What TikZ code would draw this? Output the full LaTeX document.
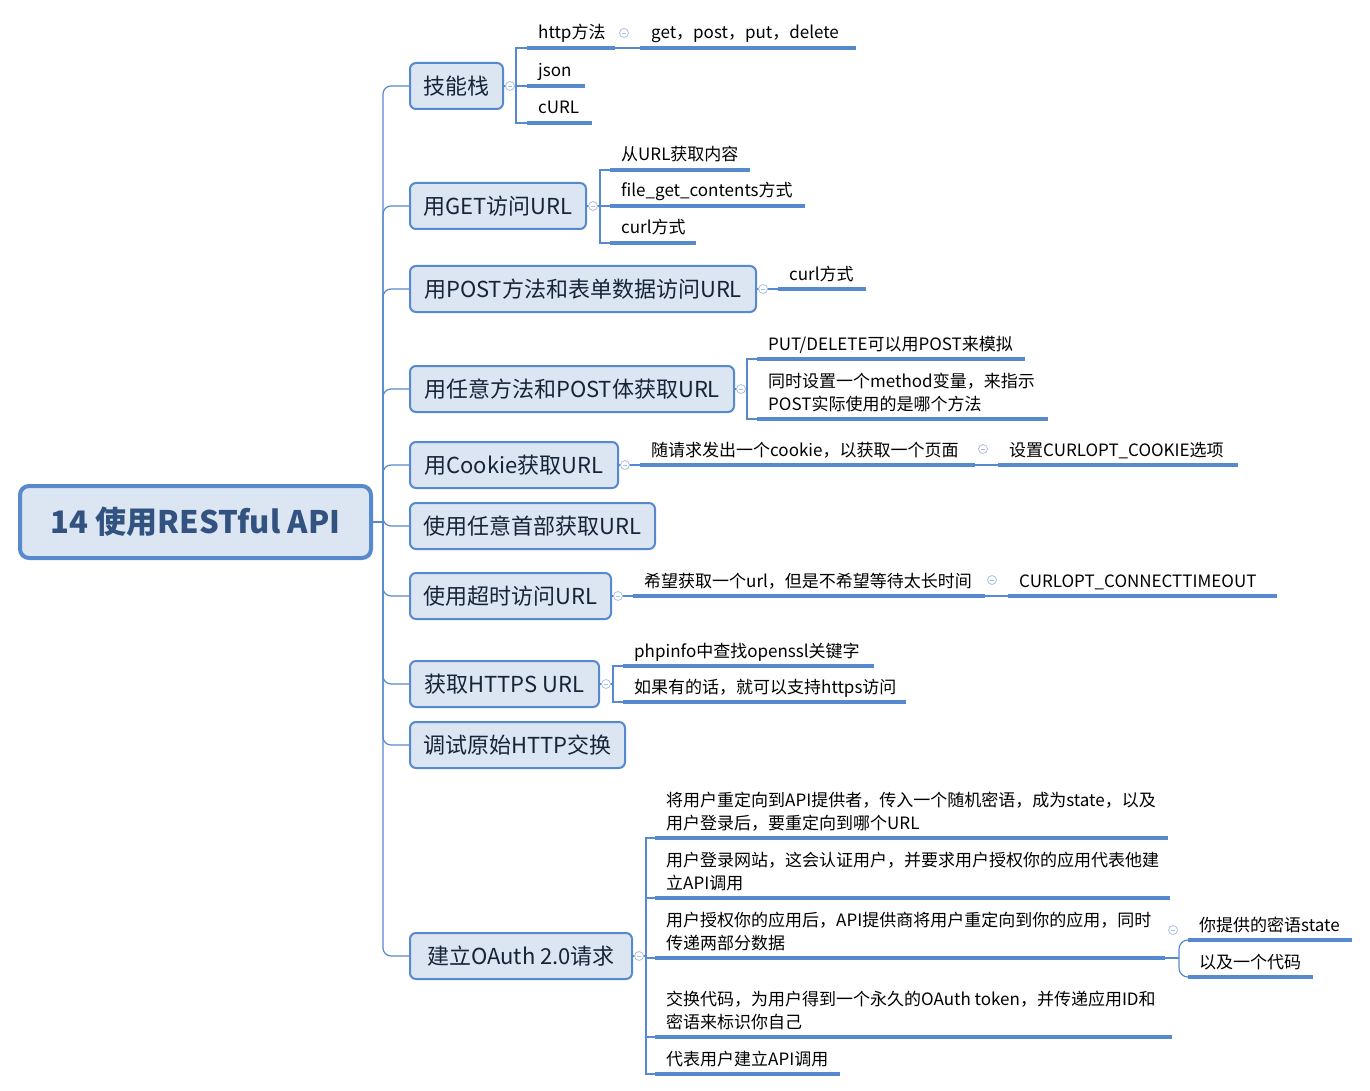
\documentclass[tikz,border=0pt]{standalone}
\usepackage{fontspec}
\setmainfont{Noto Sans CJK SC}
\usetikzlibrary{calc}
\definecolor{lb}{RGB}{86,137,205}
\definecolor{boxfill}{RGB}{220,230,242}
\definecolor{roottext}{RGB}{50,82,128}
\definecolor{btext}{RGB}{22,36,56}
\definecolor{circ}{RGB}{170,192,225}
\tikzset{
  rootbox/.style={draw=lb, line width=4pt, fill=boxfill, rounded corners=9pt,
    minimum height=72pt, minimum width=351pt, inner sep=0pt,
    font=\fontsize{31}{36}\selectfont\bfseries, text=roottext},
  branch/.style={draw=lb, line width=2pt, fill=boxfill, rounded corners=6pt,
    minimum height=46pt, inner sep=0pt, anchor=west,
    font=\fontsize{22}{26}\selectfont, text=btext},
  thinline/.style={draw=lb, line width=1.2pt},
  uline/.style={draw=lb, line width=3.2pt},
  leaftext/.style={font=\fontsize{17}{23}\selectfont, anchor=base west,
    inner sep=0pt, align=left, text=black},
  collapse/.style={circle, draw=circ, fill=white, line width=0.8pt,
    minimum size=9pt, inner sep=0pt,
    path picture={\draw[circ, line width=0.8pt]
      ($(path picture bounding box.west)+(2.2pt,0)$) --
      ($(path picture bounding box.east)+(-2.2pt,0)$);}}
}
\newcommand{\myleaf}[6]{%
  \coordinate (#1s) at (#2,#4);
  \coordinate (#1e) at (#3,#4);
  \draw[uline] (#1s) -- (#1e);
  \node[leaftext] (#1) at ({#2+11},#5) {#6};
}
\begin{document}
\begin{tikzpicture}[x=1pt,y=-1pt]
\useasboundingbox (0,0) rectangle (1370,1091);

% root and branches
\node[rootbox] (root) at (195.5,522) {14 使用RESTful API};
\node[branch, minimum width=93pt]  (b1)  at (409,86)  {技能栈};
\node[branch, minimum width=176pt] (b2)  at (409,206) {用GET访问URL};
\node[branch, minimum width=346pt] (b3)  at (409,289) {用POST方法和表单数据访问URL};
\node[branch, minimum width=324pt] (b4)  at (409,389) {用任意方法和POST体获取URL};
\node[branch, minimum width=208pt] (b5)  at (409,465) {用Cookie获取URL};
\node[branch, minimum width=245pt] (b6)  at (409,526) {使用任意首部获取URL};
\node[branch, minimum width=201pt] (b7)  at (409,596) {使用超时访问URL};
\node[branch, minimum width=189pt] (b8)  at (409,684) {获取HTTPS URL};
\node[branch, minimum width=215pt] (b9)  at (409,745) {调试原始HTTP交换};
\node[branch, minimum width=222pt] (b10) at (409,956) {建立OAuth 2.0请求};

% trunk
\coordinate (tr) at (383,522);
\draw[thinline] (root.east) -- (tr);
\foreach \b in {b1,b2,b3,b4,b5,b6,b7,b8,b9,b10}{
  \draw[thinline, rounded corners=8pt] (tr) |- (\b.west);
}

% leaves
\myleaf{a1}{527}{615}{48}{39}{http方法}
\myleaf{a11}{640}{856}{48}{39}{get，post，put，delete}
\myleaf{a2}{527}{585}{86}{77}{json}
\myleaf{a3}{527}{592}{123}{114}{cURL}

\myleaf{g1}{610}{750}{170}{161}{从URL获取内容}
\myleaf{g2}{610}{805}{206}{197}{file\_get\_contents方式}
\myleaf{g3}{610}{696}{243}{234}{curl方式}

\myleaf{p1}{778}{866}{289}{280}{curl方式}

\myleaf{m1}{757}{1025}{359}{350}{PUT/DELETE可以用POST来模拟}
\myleaf{m2}{757}{1048}{419}{410}{同时设置一个method变量，来指示\\POST实际使用的是哪个方法}

\myleaf{k1}{640}{975}{465}{456}{随请求发出一个cookie，以获取一个页面}
\myleaf{k2}{998}{1238}{465}{456}{设置CURLOPT\_COOKIE选项}

\myleaf{t1}{633}{985}{596}{587}{希望获取一个url，但是不希望等待太长时间}
\myleaf{t2}{1008}{1277}{596}{587}{CURLOPT\_CONNECTTIMEOUT}

\myleaf{h1}{623}{874}{666}{657}{phpinfo中查找openssl关键字}
\myleaf{h2}{623}{906}{702}{693}{如果有的话，就可以支持https访问}

\myleaf{o1}{655}{1168}{838}{829}{将用户重定向到API提供者，传入一个随机密语，成为state，以及\\用户登录后，要重定向到哪个URL}
\myleaf{o2}{655}{1170}{898}{889}{用户登录网站，这会认证用户，并要求用户授权你的应用代表他建\\立API调用}
\myleaf{o3}{655}{1165}{958}{949}{用户授权你的应用后，API提供商将用户重定向到你的应用，同时\\传递两部分数据}
\myleaf{o4}{655}{1172}{1037}{1028}{交换代码，为用户得到一个永久的OAuth token，并传递应用ID和\\密语来标识你自己}
\myleaf{o5}{655}{840}{1074}{1065}{代表用户建立API调用}

\myleaf{s1}{1188}{1352}{940}{931}{你提供的密语state}
\myleaf{s2}{1188}{1313}{977}{968}{以及一个代码}

% connectors
\coordinate (j1) at (516,86);
\draw[thinline] (b1.east) -- (j1);
\foreach \l in {a1s,a2s,a3s}{\draw[thinline] (j1) |- (\l);}
\draw[thinline] (a1e) -- (a11s);

\coordinate (j2) at (600,206);
\draw[thinline] (b2.east) -- (j2);
\foreach \l in {g1s,g2s,g3s}{\draw[thinline] (j2) |- (\l);}

\draw[thinline] (b3.east) -- (p1s);

\coordinate (j4) at (747,389);
\draw[thinline] (b4.east) -- (j4);
\foreach \l in {m1s,m2s}{\draw[thinline] (j4) |- (\l);}

\draw[thinline] (b5.east) -- (k1s);
\draw[thinline] (k1e) -- (k2s);

\draw[thinline] (b7.east) -- (t1s);
\draw[thinline] (t1e) -- (t2s);

\coordinate (j8) at (613,684);
\draw[thinline] (b8.east) -- (j8);
\foreach \l in {h1s,h2s}{\draw[thinline] (j8) |- (\l);}

\coordinate (j10) at (646,956);
\draw[thinline] (b10.east) -- (j10);
\foreach \l in {o1s,o2s,o3s,o4s,o5s}{\draw[thinline] (j10) |- (\l);}

\coordinate (jo3) at (1179,958);
\draw[thinline] (o3e) -- (jo3);
\foreach \l in {s1s,s2s}{\draw[thinline, rounded corners=9pt] (jo3) |- (\l);}

% collapse markers
\node[collapse] (c1)  at (510,86)  {};
\node[collapse] (c2)  at (593,206) {};
\node[collapse] (c3)  at (763,289) {};
\node[collapse] (c4)  at (741,389) {};
\node[collapse] (c5)  at (625,465) {};
\node[collapse] (c7)  at (618,596) {};
\node[collapse] (c8)  at (606,684) {};
\node[collapse] (c10) at (639,956) {};
\node[collapse] (ca1) at (624,33)  {};
\node[collapse] (ck1) at (983,449) {};
\node[collapse] (ct1) at (992,580) {};
\node[collapse] (co3) at (1173,930) {};
\end{tikzpicture}
\end{document}
